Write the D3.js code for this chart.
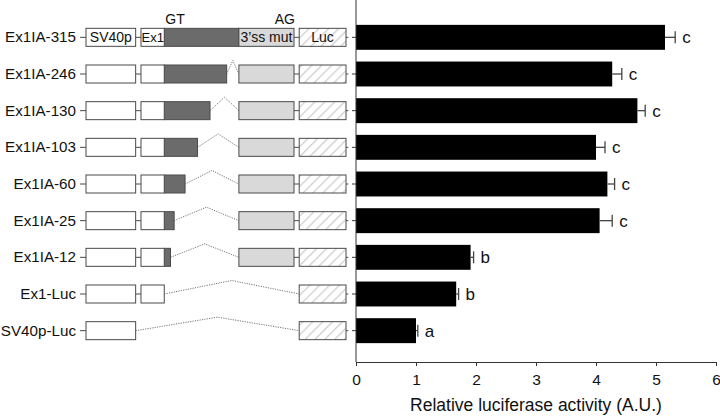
<!DOCTYPE html>
<html>
<head>
<meta charset="utf-8">
<title>luciferase constructs</title>
<script src="https://cdn.jsdelivr.net/npm/d3@7/dist/d3.min.js"></script>
<style>
  body { margin: 0; background: #fff; }
  svg { display: block; font-family: "Liberation Sans", Arial, sans-serif; }
  .axis path, .axis line { stroke: #333; }
  .axis text { font-size: 15.5px; fill: #111; }
  .ylab text { font-size: 15.2px; fill: #111; }
</style>
</head>
<body>
<svg id="chart" width="720" height="416"></svg>
<script>
// data
var constructs = ["Ex1IA-315", "Ex1IA-246", "Ex1IA-130", "Ex1IA-103", "Ex1IA-60",
                  "Ex1IA-25", "Ex1IA-12", "Ex1-Luc", "SV40p-Luc"];
var activity = [5.15, 4.27, 4.69, 4.0, 4.19, 4.06, 1.91, 1.67, 1.0];
var errors   = [0.17, 0.16, 0.13, 0.15, 0.12, 0.21, 0.05, 0.04, 0.03];
var groups   = ["c", "c", "c", "c", "c", "c", "b", "b", "a"];
// drawn length of the retained intron (schematic units), null = no intron part
var introLen = [28.7, 24, 17.6, 12.8, 8, 3.8, 2.4, null, null];
var hasEx1   = [true, true, true, true, true, true, true, true, false];
var xTicks   = [0, 1, 2, 3, 4, 5, 6];

var svg = d3.select("#chart");

var x = d3.scaleLinear().domain([0, 6]).range([356, 716]);
var y = d3.scaleBand().domain(constructs).range([19, 349])
          .paddingInner(0.32).paddingOuter(0.16);
var axisY = 362;

// hatch for Luc box
var defs = svg.append("defs");
var pat = defs.append("pattern").attr("id", "hatch")
  .attr("patternUnits", "userSpaceOnUse").attr("width", 7).attr("height", 7)
  .attr("patternTransform", "rotate(45)");
pat.append("rect").attr("width", 7).attr("height", 7).attr("fill", "#fff");
pat.append("line").attr("x1", 0).attr("y1", 0).attr("x2", 0).attr("y2", 7)
  .attr("stroke", "#cfcfcf").attr("stroke-width", 2.6);

// bars
svg.append("g").selectAll("rect").data(constructs).join("rect")
  .attr("x", x(0))
  .attr("y", d => y(d))
  .attr("width", (d, i) => x(activity[i]) - x(0))
  .attr("height", y.bandwidth())
  .attr("fill", "#000");

// error bars
var eb = svg.append("g").attr("stroke", "#444").attr("stroke-width", 1.3);
constructs.forEach(function(d, i) {
  var cy = y(d) + y.bandwidth() / 2;
  var x1 = x(activity[i]), x2 = x(activity[i] + errors[i]);
  eb.append("line").attr("x1", x1).attr("x2", x2).attr("y1", cy).attr("y2", cy);
  eb.append("line").attr("x1", x2).attr("x2", x2).attr("y1", cy - 6).attr("y2", cy + 6);
});

// significance letters
svg.append("g").selectAll("text").data(constructs).join("text")
  .attr("x", (d, i) => x(activity[i] + errors[i]) + 7)
  .attr("y", d => y(d) + y.bandwidth() / 2)
  .attr("dy", "0.35em")
  .attr("font-size", 17)
  .attr("fill", "#111")
  .text((d, i) => groups[i]);

// axes
svg.append("g").attr("class", "axis")
  .attr("transform", "translate(0," + axisY + ")")
  .call(d3.axisBottom(x).tickValues(xTicks).tickFormat(d3.format("d"))
          .tickSize(4).tickSizeOuter(0).tickPadding(8));

var ya = svg.append("g").attr("class", "axis ylab")
  .attr("transform", "translate(" + x(0) + ",0)")
  .call(d3.axisLeft(y).tickSize(4).tickSizeOuter(0).tickPadding(276));
ya.select(".domain").remove();
ya.append("line").attr("x1", 0).attr("x2", 0).attr("y1", 0).attr("y2", axisY).attr("stroke", "#333");

svg.append("text")
  .attr("x", (x(0) + x(6)) / 2).attr("y", 411)
  .attr("text-anchor", "middle").attr("font-size", 17.5).attr("fill", "#111")
  .text("Relative luciferase activity (A.U.)");

// construct diagrams
var gx = d3.scaleLinear().domain([0, 100]).range([86, 346]);
var bh = 18;
var sv40 = [0, 19.1], ex1 = [21.15, 30.1], ss3 = [58.8, 80], luc = [82, 100];

var dg = svg.append("g");
function box(g, seg, cy, fill) {
  return g.append("rect")
    .attr("x", gx(seg[0])).attr("y", cy - bh / 2)
    .attr("width", gx(seg[1]) - gx(seg[0])).attr("height", bh)
    .attr("fill", fill).attr("stroke", "#4a4a4a").attr("stroke-width", 1);
}
function link(g, a, b, cy) {
  g.append("line").attr("x1", gx(a)).attr("x2", gx(b)).attr("y1", cy).attr("y2", cy)
    .attr("stroke", "#4a4a4a");
}
function splice(g, a, b, cy) {
  var xa = gx(a), xb = gx(b);
  g.append("path")
    .attr("d", "M" + xa + "," + cy + "L" + (xa + xb) / 2 + "," + (cy - 13.5) + "L" + xb + "," + cy)
    .attr("fill", "none").attr("stroke", "#777").attr("stroke-width", 1)
    .attr("stroke-dasharray", "1.2,1.2");
}

constructs.forEach(function(d, i) {
  var cy = y(d) + y.bandwidth() / 2;
  var g = dg.append("g");
  link(g, -2.3, 0, cy);
  link(g, luc[1], 100.9, cy);
  var last = sv40[1];
  if (hasEx1[i]) {
    link(g, sv40[1], ex1[0], cy);
    last = ex1[1];
  }
  if (introLen[i] !== null) {
    var end = ex1[1] + introLen[i];
    if (end < ss3[0] - 0.01) splice(g, end, ss3[0], cy);
    link(g, ss3[1], luc[0], cy);
    box(g, [ex1[1], end], cy, "#6b6b6b");
    box(g, ss3, cy, "#d9d9d9");
  } else {
    splice(g, last, luc[0], cy);
  }
  box(g, sv40, cy, "#fff");
  if (hasEx1[i]) box(g, ex1, cy, "#fff");
  box(g, luc, cy, "url(#hatch)");

  if (i === 0) {
    var t = g.append("g").attr("font-size", 14).attr("fill", "#111");
    t.append("text").attr("x", gx((sv40[0] + sv40[1]) / 2)).attr("y", cy).attr("dy", "0.36em")
      .attr("text-anchor", "middle").text("SV40p");
    t.append("text").attr("x", gx(ex1[0]) + 0.5).attr("y", cy).attr("dy", "0.36em")
      .attr("font-size", 13).text("Ex1");
    t.append("text").attr("x", gx((ss3[0] + ss3[1]) / 2)).attr("y", cy).attr("dy", "0.36em")
      .attr("text-anchor", "middle").text("3\u2019ss mut");
    t.append("text").attr("x", gx((luc[0] + luc[1]) / 2)).attr("y", cy).attr("dy", "0.36em")
      .attr("text-anchor", "middle").text("Luc");
    t.append("text").attr("x", gx(ex1[1]) + 1).attr("y", cy - 13).text("GT");
    t.append("text").attr("x", gx(ss3[1]) + 1).attr("y", cy - 13)
      .attr("text-anchor", "end").text("AG");
  }
});
</script>
</body>
</html>
